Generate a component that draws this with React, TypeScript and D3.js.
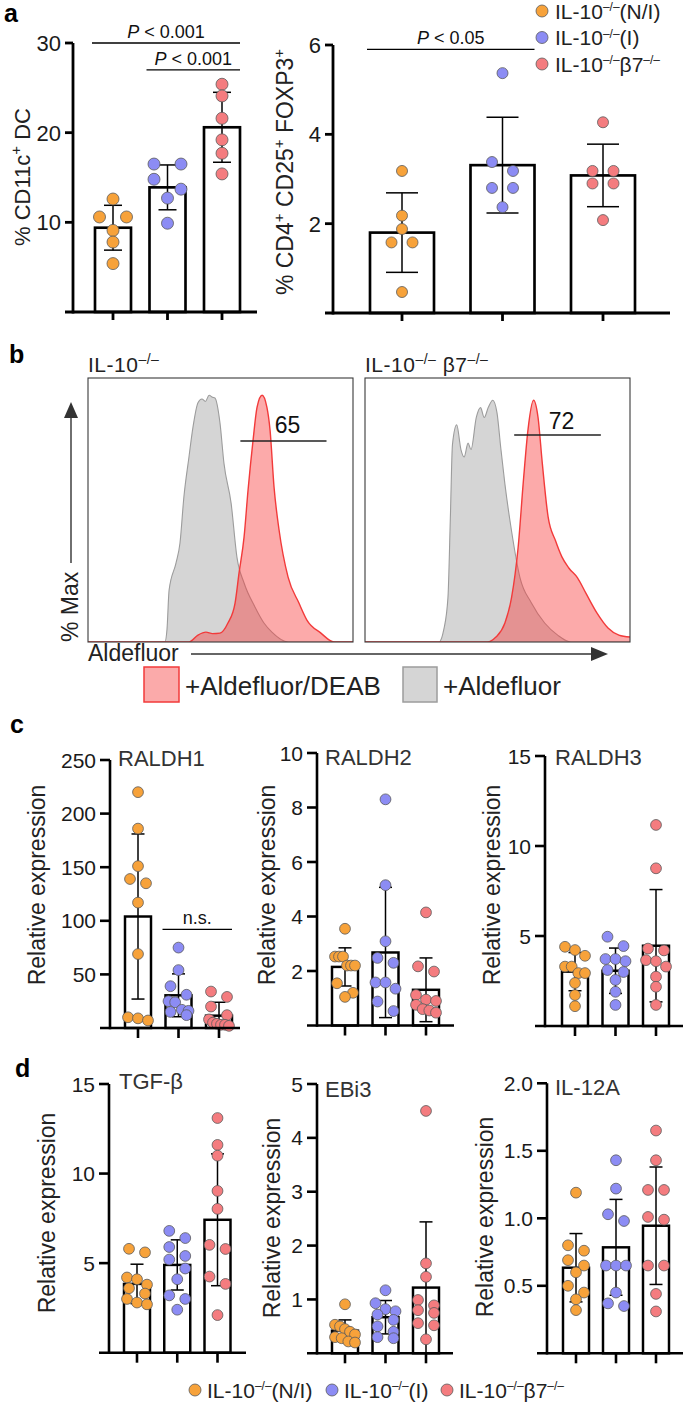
import React from "react";
import * as d3 from "d3";

const FONT = "'Liberation Sans', Arial, Helvetica, sans-serif";
const GROUP_COLORS = ["#F7A23A", "#8C8CF4", "#F47C7F"];
const POINT_STROKE = "#5a5a5a";
const SUP = "\u2013/\u2013";

// ---------- panel a ----------
const cd11cMeans = [9.4, 13.9, 20.6];
const cd11cSD = [2.5, 2.5, 3.9];
const cd11cPoints = [
  [12.6, 10.6, 10.6, 9.1, 7.8, 5.4],
  [16.5, 16.5, 14.8, 13.7, 12.7, 9.9],
  [25.4, 24.1, 21.6, 19.2, 17.7, 15.4],
];
const cd11cTicks = [10, 20, 30];
const cd11cSig = [
  { from: 0, to: 2, level: 30, label: " < 0.001" },
  { from: 1, to: 2, level: 27, label: " < 0.001" },
];

const foxp3Means = [1.8, 3.31, 3.08];
const foxp3SD = [0.89, 1.07, 0.7];
const foxp3Points = [
  [3.18, 2.18, 1.88, 1.58, 1.58, 0.47],
  [5.37, 3.38, 3.18, 2.8, 2.8, 2.37],
  [4.27, 3.18, 3.18, 2.9, 2.9, 2.08],
];
const foxp3Ticks = [2, 4, 6];
const foxp3Sig = [{ from: 0, to: 1, level: 5.9, label: " < 0.05" }];

// ---------- panel b (histograms: [channel 0-100, % of max]) ----------
const histLeftGrey: [number, number][] = [
  [0, 0], [29, 0], [29.8, 5], [30.6, 21], [33.2, 32], [34.7, 40], [36.2, 59], [38.1, 75],
  [39.6, 87], [41.5, 97], [43, 98.5], [44.3, 97.5], [45.7, 100], [47, 99.2], [47.9, 98.9],
  [49.8, 88.8], [51.3, 72.5], [54, 56.3], [56.2, 34.4], [58.9, 23.9], [63, 14.2],
  [66.4, 7.7], [69.4, 4], [75.5, 0], [100, 0],
];
const histLeftRed: [number, number][] = [
  [0, 0], [38.1, 0], [41.5, 2.8], [44.5, 4], [47, 3.4], [49.8, 3.6], [52.8, 7.7], [55.5, 15.8],
  [57, 28], [58.9, 42.6], [60.4, 61.6], [62.3, 81.9], [63.8, 95.2], [65.7, 100], [67.5, 95.2],
  [68.7, 85.9], [70.2, 62.8], [72.1, 45.4], [75.5, 26.3], [79.6, 15.8], [82.6, 8.9],
  [87.9, 3.6], [92.8, 0], [100, 0],
];
const histRightGrey: [number, number][] = [
  [0, 0], [27.9, 0], [29.7, 4.9], [31.3, 18], [32.2, 50], [33, 80], [34.6, 88], [36.2, 78],
  [37.4, 75], [38.9, 80.6], [40, 78], [42, 91], [43.6, 95], [45, 91], [46.5, 95], [48.2, 98],
  [49.8, 93], [51.2, 79], [52.8, 64], [55.3, 45], [58.5, 26], [62.7, 16], [67.8, 7.7],
  [72.7, 2.8], [77.7, 0], [100, 0],
];
const histRightRed: [number, number][] = [
  [0, 0], [46.2, 0], [49.4, 2], [52.8, 7.7], [55.3, 18], [57.8, 38.5], [59.8, 65.7], [61.5, 86],
  [63.6, 98], [65.3, 91], [66.9, 72.5], [69.1, 50.7], [71.9, 41], [74.3, 34.5], [76.9, 30],
  [80.2, 26], [83.4, 19.7], [87.5, 11.8], [91.7, 5.7], [95.8, 2.8], [100, 2],
];
const gateLeft = { from: 57.5, to: 90, label: "65" };
const gateRight = { from: 56.3, to: 89, label: "72" };

// ---------- panel c ----------
const ral1Means = [104, 30.5, 11.5];
const ral1SD = [77, 20, 12.5];
const ral1Points = [
  [220, 186, 151, 139, 135, 117, 69, 10, 9, 7],
  [75, 54, 39, 31, 25, 24, 17, 16, 15, 12],
  [34, 29, 20, 12, 8, 5, 4, 3, 3, 2],
];
const ral1Ticks = [50, 100, 150, 200, 250];
const ral1Sig = [{ from: 1, to: 2, level: 92, label: "n.s." }];

const ral2Means = [2.15, 2.68, 1.31];
const ral2SD = [0.7, 2.39, 1.17];
const ral2Points = [
  [3.55, 2.53, 2.53, 2.53, 2.2, 2.2, 2.2, 1.55, 1.2, 1.05],
  [8.3, 5.15, 3.09, 2.48, 2.3, 1.58, 1.58, 1.35, 0.88, 0.53],
  [4.15, 2.17, 1.98, 1.12, 0.95, 0.9, 0.76, 0.6, 0.55, 0.47],
];
const ral2Ticks = [2, 4, 6, 8, 10];

const ral3Means = [3.02, 3.07, 4.46];
const ral3SD = [1.06, 1.26, 3.12];
const ral3Points = [
  [4.4, 4.22, 3.9, 3.3, 3.3, 2.94, 2.94, 2.39, 1.72, 1.1],
  [4.96, 4.44, 3.72, 3.72, 3.6, 3.11, 3.0, 2.56, 1.9, 1.17],
  [11.17, 8.76, 4.3, 4.2, 3.66, 3.6, 3.3, 2.74, 2.18, 1.17],
];
const ral3Ticks = [5, 10, 15];

// ---------- panel d ----------
const tgfMeans = [3.84, 4.9, 7.42];
const tgfSD = [1.1, 1.4, 3.68];
const tgfPoints = [
  [5.8, 5.6, 4.2, 4.1, 3.8, 3.6, 3.3, 3.0, 2.8, 2.7],
  [6.8, 6.4, 5.9, 5.4, 5.2, 4.7, 4.1, 3.2, 3.0, 2.4],
  [13.1, 11.6, 11.0, 9.03, 8.03, 6.02, 5.79, 4.25, 3.84, 2.1],
];
const tgfTicks = [5, 10, 15];

const ebiMeans = [0.42, 0.67, 1.22];
const ebiSD = [0.2, 0.31, 1.22];
const ebiPoints = [
  [0.91, 0.53, 0.5, 0.45, 0.4, 0.35, 0.3, 0.28, 0.22, 0.2],
  [1.17, 0.93, 0.82, 0.78, 0.72, 0.62, 0.5, 0.4, 0.3, 0.28],
  [4.5, 1.67, 1.42, 0.99, 0.89, 0.8, 0.75, 0.56, 0.52, 0.26],
];
const ebiTicks = [1, 2, 3, 4, 5];

const il12Means = [0.634, 0.785, 0.945];
const il12SD = [0.253, 0.355, 0.435];
const il12Points = [
  [1.19, 0.8, 0.76, 0.69, 0.65, 0.6, 0.5, 0.45, 0.4, 0.32],
  [1.43, 1.22, 1.03, 0.98, 0.65, 0.65, 0.65, 0.45, 0.37, 0.35],
  [1.65, 1.43, 1.21, 1.21, 1.01, 0.99, 0.65, 0.65, 0.44, 0.31],
];
const il12Ticks = [0.5, 1.0, 1.5, 2.0];

// ---------- helpers ----------
function swarm(vals: number[], y: (v: number) => number, r: number, step: number, maxSpan: number) {
  const items = vals.map((v) => ({ v, py: y(v) })).sort((a, b) => a.py - b.py);
  const rows: { v: number; py: number }[][] = [];
  let cur: { v: number; py: number }[] = [];
  for (const it of items) {
    if (cur.length && it.py - cur[0].py >= 1.8 * r) {
      rows.push(cur);
      cur = [];
    }
    cur.push(it);
  }
  if (cur.length) rows.push(cur);
  const out: { py: number; dx: number }[] = [];
  rows.forEach((row) => {
    const n = row.length;
    const st = n > 1 ? Math.min(step, maxSpan / (n - 1)) : 0;
    row.forEach((it, i) => out.push({ py: it.py, dx: (i - (n - 1) / 2) * st }));
  });
  return out;
}

type Sig = { from: number; to: number; level: number; label: string };
type Cfg = {
  axisX: number; right: number; top: number; bottom: number; yMax: number;
  ticks: number[]; fmt: (v: number) => string; c0: number; c2: number; barW: number;
  means: number[]; sds: number[]; points: number[][]; r: number; step: number; maxSpan: number;
  tickFont: number; tickLen: number; axisW: number;
  title?: string; titleX?: number; titleY?: number;
  ylabel: React.ReactNode; ylabelX: number; ylabelY: number; ylabelFont: number;
  sig?: Sig[]; sigFont?: number;
};

function BarChart({ c }: { c: Cfg }) {
  const y = d3.scaleLinear().domain([0, c.yMax]).range([c.bottom, c.top]);
  const x = d3.scalePoint<number>().domain([0, 1, 2]).range([c.c0, c.c2]);
  const cap = c.barW / 2;
  return (
    <g>
      {c.means.map((m, i) => (
        <rect key={"b" + i} x={x(i)! - c.barW / 2} y={y(m)} width={c.barW} height={c.bottom - y(m)}
          fill="#fff" stroke="#000" strokeWidth={c.axisW * 0.95} />
      ))}
      {c.means.map((m, i) => {
        const lo = Math.max(0, m - c.sds[i]);
        const hi = m + c.sds[i];
        const cx = x(i)!;
        return (
          <g key={"e" + i} stroke="#000" strokeWidth={1.5}>
            <line x1={cx} x2={cx} y1={y(lo)} y2={y(hi)} />
            <line x1={cx - cap / 2} x2={cx + cap / 2} y1={y(hi)} y2={y(hi)} />
            {lo > 0 && <line x1={cx - cap / 2} x2={cx + cap / 2} y1={y(lo)} y2={y(lo)} />}
          </g>
        );
      })}
      {c.points.map((vals, i) =>
        swarm(vals, y, c.r, c.step, c.maxSpan).map((p, j) => (
          <circle key={"p" + i + "-" + j} cx={x(i)! + p.dx} cy={p.py} r={c.r}
            fill={GROUP_COLORS[i]} stroke={POINT_STROKE} strokeWidth={0.8} />
        ))
      )}
      <line x1={c.axisX} x2={c.axisX} y1={c.top} y2={c.bottom + c.axisW / 2} stroke="#000" strokeWidth={c.axisW} />
      <line x1={c.axisX - c.tickLen} x2={c.right} y1={c.bottom} y2={c.bottom} stroke="#000" strokeWidth={c.axisW} />
      {c.ticks.map((t) => (
        <g key={"t" + t}>
          <line x1={c.axisX - c.tickLen} x2={c.axisX} y1={y(t)} y2={y(t)} stroke="#000" strokeWidth={c.axisW} />
          <text x={c.axisX - c.tickLen - 4} y={y(t)} dy="0.36em" textAnchor="end" fontSize={c.tickFont} fill="#1a1a1a">
            {c.fmt(t)}
          </text>
        </g>
      ))}
      {[0, 1, 2].map((i) => (
        <line key={"xt" + i} x1={x(i)} x2={x(i)} y1={c.bottom} y2={c.bottom + c.tickLen} stroke="#000" strokeWidth={c.axisW} />
      ))}
      {c.title && (
        <text x={c.titleX} y={c.titleY} fontSize={22} fill="#333">{c.title}</text>
      )}
      <text transform={`translate(${c.ylabelX},${c.ylabelY}) rotate(-90)`} textAnchor="middle"
        fontSize={c.ylabelFont} fill="#222">
        {c.ylabel}
      </text>
      {(c.sig || []).map((s, k) => {
        const x1 = x(s.from)! - c.barW / 2 - 3;
        const x2 = x(s.to)! + c.barW / 2;
        const ly = y(s.level);
        return (
          <g key={"s" + k}>
            <line x1={x1} x2={x2} y1={ly} y2={ly} stroke="#000" strokeWidth={1.3} />
            <text x={(x1 + x2) / 2} y={ly - 5} textAnchor="middle" fontSize={c.sigFont || 18} fill="#111">
              {s.label === "n.s." ? "n.s." : (<><tspan fontStyle="italic">P</tspan>{s.label}</>)}
            </text>
          </g>
        );
      })}
    </g>
  );
}

function Histo({ x0, x1, top, bottom, grey, red, gate, gateY, labelY }: {
  x0: number; x1: number; top: number; bottom: number;
  grey: [number, number][]; red: [number, number][];
  gate: { from: number; to: number; label: string }; gateY: number; labelY: number;
}) {
  const xs = d3.scaleLinear().domain([0, 100]).range([x0, x1]);
  const ys = d3.scaleLinear().domain([0, 107]).range([bottom, top]);
  const area = d3.area<[number, number]>().x((d) => xs(d[0])).y0(bottom).y1((d) => ys(d[1])).curve(d3.curveMonotoneX);
  const line = d3.line<[number, number]>().x((d) => xs(d[0])).y((d) => ys(d[1])).curve(d3.curveMonotoneX);
  const id = "clip" + Math.round(x0);
  return (
    <g>
      <defs>
        <clipPath id={id}><rect x={x0} y={top} width={x1 - x0} height={bottom - top} /></clipPath>
      </defs>
      <g clipPath={`url(#${id})`}>
        <path d={area(grey) || ""} fill="#d5d5d5" />
        <path d={line(grey) || ""} fill="none" stroke="#9c9c9c" strokeWidth={1.1} />
        <path d={area(red) || ""} fill="rgba(248,62,62,0.44)" />
        <path d={line(red) || ""} fill="none" stroke="#f23a3a" strokeWidth={1.4} />
      </g>
      <rect x={x0} y={top} width={x1 - x0} height={bottom - top} fill="none" stroke="#3a3a3a" strokeWidth={1.1} />
      <line x1={xs(gate.from)} x2={xs(gate.to)} y1={gateY} y2={gateY} stroke="#222" strokeWidth={1.4} />
      <text x={(xs(gate.from) + xs(gate.to)) / 2 + 4} y={labelY} textAnchor="middle" fontSize={23} fill="#111">{gate.label}</text>
    </g>
  );
}

function Sup({ t, size, rise }: { t: string; size: number; rise: number }) {
  return <tspan fontSize={size} dy={-rise}>{t}</tspan>;
}

function GroupLabel({ idx, sup }: { idx: number; sup: number }) {
  const r = sup * 0.62;
  if (idx === 0)
    return (<><tspan>IL-10</tspan><Sup t={SUP} size={sup} rise={r} /><tspan dy={r}>(N/I)</tspan></>);
  if (idx === 1)
    return (<><tspan>IL-10</tspan><Sup t={SUP} size={sup} rise={r} /><tspan dy={r}>(I)</tspan></>);
  return (<><tspan>IL-10</tspan><Sup t={SUP} size={sup} rise={r} /><tspan dy={r}>β7</tspan><Sup t={SUP} size={sup} rise={r} /></>);
}

const d0 = d3.format("d");
const d1 = d3.format(".1f");

export default function App() {
  const common = { tickLen: 10, axisW: 2.6, r: 5.4, step: 16, maxSpan: 20, tickFont: 21, barW: 26, ylabelFont: 23 };
  const relExp = "Relative expression";
  const charts: Cfg[] = [
    {
      axisX: 73, right: 257, top: 43, bottom: 312, yMax: 30, ticks: cd11cTicks, fmt: d0, c0: 113, c2: 222,
      barW: 36, means: cd11cMeans, sds: cd11cSD, points: cd11cPoints, r: 6, step: 27, maxSpan: 30,
      tickFont: 22, tickLen: 8, axisW: 2.8, ylabelX: 30, ylabelY: 177, ylabelFont: 22,
      ylabel: (<><tspan>% CD11c</tspan><tspan fontSize={15} dy={-9}>+</tspan><tspan dy={9}> DC</tspan></>),
      sig: cd11cSig,
    },
    {
      axisX: 333, right: 670, top: 45, bottom: 313, yMax: 6, ticks: foxp3Ticks, fmt: d0, c0: 402, c2: 603,
      barW: 64, means: foxp3Means, sds: foxp3SD, points: foxp3Points, r: 5.5, step: 21, maxSpan: 30,
      tickFont: 22, tickLen: 8, axisW: 2.8, ylabelX: 293, ylabelY: 172, ylabelFont: 23,
      ylabel: (<><tspan>% CD4</tspan><tspan fontSize={15} dy={-9}>+</tspan><tspan dy={9}> CD25</tspan>
        <tspan fontSize={15} dy={-9}>+</tspan><tspan dy={9}> FOXP3</tspan><tspan fontSize={15} dy={-9}>+</tspan></>),
      sig: foxp3Sig,
    },
    {
      ...common, axisX: 110, right: 240, top: 760, bottom: 1028, yMax: 250, ticks: ral1Ticks, fmt: d0, c0: 138, c2: 219,
      means: ral1Means, sds: ral1SD, points: ral1Points, title: "RALDH1", titleX: 118, titleY: 766,
      ylabel: relExp, ylabelX: 45, ylabelY: 885, sig: ral1Sig,
    },
    {
      ...common, axisX: 317, right: 454, top: 753, bottom: 1025.5, yMax: 10, ticks: ral2Ticks, fmt: d0, c0: 345, c2: 426,
      means: ral2Means, sds: ral2SD, points: ral2Points, title: "RALDH2", titleX: 325, titleY: 765,
      ylabel: relExp, ylabelX: 275, ylabelY: 885,
    },
    {
      ...common, axisX: 545, right: 683, top: 756, bottom: 1026, yMax: 15, ticks: ral3Ticks, fmt: d0, c0: 575, c2: 656,
      means: ral3Means, sds: ral3SD, points: ral3Points, title: "RALDH3", titleX: 555, titleY: 765,
      ylabel: relExp, ylabelX: 500, ylabelY: 885,
    },
    {
      ...common, axisX: 109, right: 246, top: 1084, bottom: 1352.7, yMax: 15, ticks: tgfTicks, fmt: d0, c0: 137, c2: 217.5,
      means: tgfMeans, sds: tgfSD, points: tgfPoints, title: "TGF-β", titleX: 119, titleY: 1089,
      ylabel: relExp, ylabelX: 55, ylabelY: 1213,
    },
    {
      ...common, axisX: 317, right: 453, top: 1084, bottom: 1353.3, yMax: 5, ticks: ebiTicks, fmt: d0, c0: 345, c2: 426,
      means: ebiMeans, sds: ebiSD, points: ebiPoints, title: "EBi3", titleX: 325, titleY: 1097,
      ylabel: relExp, ylabelX: 280, ylabelY: 1218,
    },
    {
      ...common, axisX: 547, right: 683, top: 1083.3, bottom: 1353.3, yMax: 2, ticks: il12Ticks, fmt: d1, c0: 576, c2: 656,
      means: il12Means, sds: il12SD, points: il12Points, title: "IL-12A", titleX: 555, titleY: 1095,
      ylabel: relExp, ylabelX: 493, ylabelY: 1217,
    },
  ];

  return (
    <svg width={685} height={1402} style={{ position: "absolute", left: 0, top: 0, background: "#fff" }} fontFamily={FONT}>
      <rect x={0} y={0} width={685} height={1402} fill="#fff" />
      <text x={4} y={22} fontSize={25} fontWeight="bold">a</text>
      <text x={9} y={363} fontSize={25} fontWeight="bold">b</text>
      <text x={10} y={733} fontSize={25} fontWeight="bold">c</text>
      <text x={15} y={1077} fontSize={25} fontWeight="bold">d</text>

      {charts.map((c, i) => <BarChart key={i} c={c} />)}

      {[0, 1, 2].map((i) => (
        <g key={"lg" + i}>
          <circle cx={542} cy={11 + i * 26.5} r={6} fill={GROUP_COLORS[i]} stroke={POINT_STROKE} strokeWidth={0.8} />
          <text x={555} y={11 + i * 26.5 + 7.5} fontSize={21} fill="#222"><GroupLabel idx={i} sup={12} /></text>
        </g>
      ))}

      <text x={88} y={372} fontSize={21} fill="#222" letterSpacing={0.5}>IL-10<tspan fontSize={14} dy={-8}>{SUP}</tspan></text>
      <text x={365} y={372} fontSize={21} fill="#222" letterSpacing={0.5}>IL-10<tspan fontSize={14} dy={-8}>{SUP}</tspan><tspan dy={8}> β7</tspan><tspan fontSize={14} dy={-8}>{SUP}</tspan></text>
      <Histo x0={88} x1={353} top={378} bottom={642} grey={histLeftGrey} red={histLeftRed} gate={gateLeft} gateY={441} labelY={433} />
      <Histo x0={365} x1={630} top={378} bottom={642} grey={histRightGrey} red={histRightRed} gate={gateRight} gateY={435} labelY={429} />
      <line x1={71} x2={71} y1={563} y2={414} stroke="#333" strokeWidth={1.4} />
      <polygon points="71,402 64,418 78,418" fill="#333" />
      <text transform="translate(78,642) rotate(-90)" fontSize={23} fill="#222">% Max</text>
      <text x={88} y={661} fontSize={23} fill="#222">Aldefluor</text>
      <line x1={191} x2={596} y1={654} y2={654} stroke="#333" strokeWidth={1.4} />
      <polygon points="608,654 591,647 591,661" fill="#333" />
      <rect x={144} y={667} width={35} height={35} fill="#fbaaaa" stroke="#f23a3a" strokeWidth={1.5} />
      <text x={185} y={695} fontSize={26} fill="#222">+Aldefluor/DEAB</text>
      <rect x={403} y={667} width={34} height={35} fill="#d5d5d5" stroke="#9c9c9c" strokeWidth={1.5} />
      <text x={443} y={695} fontSize={26} fill="#222">+Aldefluor</text>

      {[0, 1, 2].map((i) => {
        const cx = [195, 332, 447][i];
        return (
          <g key={"bl" + i}>
            <circle cx={cx} cy={1390} r={6} fill={GROUP_COLORS[i]} stroke={POINT_STROKE} strokeWidth={0.8} />
            <text x={cx + 12} y={1397.5} fontSize={21} fill="#222"><GroupLabel idx={i} sup={12} /></text>
          </g>
        );
      })}
    </svg>
  );
}
